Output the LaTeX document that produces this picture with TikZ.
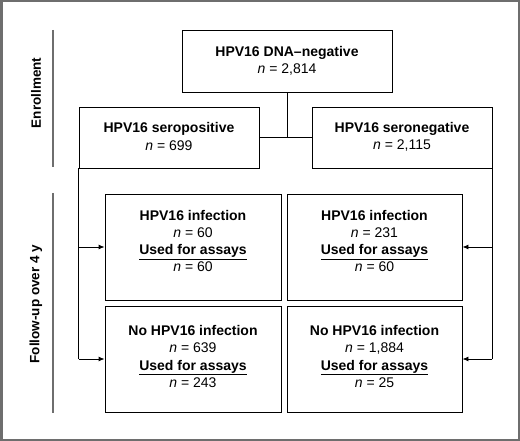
\documentclass[tikz,border=0pt]{standalone}
\usepackage{fontspec}
\setmainfont{Liberation Sans}
\usetikzlibrary{arrows.meta}
\definecolor{frame}{HTML}{6E6E6E}
\begin{document}
\begin{tikzpicture}[x=1pt,y=-1pt,
  box/.style={draw=black,line width=0.9pt,fill=white},
  conn/.style={draw=black,line width=0.9pt},
  arr/.style={conn,-{Latex[length=6pt,width=5pt]}},
  sep/.style={draw=frame,line width=1.4pt},
  lbl/.style={align=center,font=\fontsize{14}{17.2}\selectfont,inner sep=0pt},
  side/.style={rotate=90,font=\fontsize{13.5}{16}\selectfont\bfseries,inner sep=0pt}]
\useasboundingbox (0,0) rectangle (520,441);
\draw[draw=frame,line width=2.5pt] (1.25,1.25) rectangle (518.75,439.75);
% separators
\draw[sep] (53,30) -- (53,167);
\draw[sep] (53,193) -- (53,413);
\node[side] (enr) at (36,93) {Enrollment};
\node[side] (fol) at (36,304) {Follow-up over 4 y};
% boxes
\node[box,minimum width=210pt,minimum height=62pt,inner sep=0pt] (top) at (287,61) {};
\node[lbl] at (top.center) {\textbf{HPV16 DNA–negative}\\\textit{n} = 2,814};
\node[box,minimum width=180pt,minimum height=61pt,inner sep=0pt] (pos) at (169,137.5) {};
\node[lbl] at ([yshift=1pt]pos.center) {\textbf{HPV16 seropositive}\\\textit{n} = 699};
\node[box,minimum width=180pt,minimum height=61pt,inner sep=0pt] (neg) at (402,137.5) {};
\node[lbl] at ([yshift=1pt]neg.center) {\textbf{HPV16 seronegative}\\\textit{n} = 2,115};
\node[box,minimum width=176pt,minimum height=106pt,inner sep=0pt] (pi) at (193,247) {};
\node[lbl] at ([yshift=6pt]pi.center) {\textbf{HPV16 infection}\\\textit{n} = 60\\\textbf{\underline{Used for assays}}\\\textit{n} = 60};
\node[box,minimum width=175pt,minimum height=106pt,inner sep=0pt] (ni) at (374.5,247) {};
\node[lbl] at ([yshift=6pt]ni.center) {\textbf{HPV16 infection}\\\textit{n} = 231\\\textbf{\underline{Used for assays}}\\\textit{n} = 60};
\node[box,minimum width=176pt,minimum height=106pt,inner sep=0pt] (pn) at (193,359) {};
\node[lbl] at ([yshift=2.5pt]pn.center) {\textbf{No HPV16 infection}\\\textit{n} = 639\\\textbf{\underline{Used for assays}}\\\textit{n} = 243};
\node[box,minimum width=175pt,minimum height=106pt,inner sep=0pt] (nn) at (374.5,359) {};
\node[lbl] at ([yshift=2.5pt]nn.center) {\textbf{No HPV16 infection}\\\textit{n} = 1,884\\\textbf{\underline{Used for assays}}\\\textit{n} = 25};
% connectors
\coordinate (j) at (top.south |- pos.east);
\draw[conn] (top.south) -- (j);
\draw[conn] (pos.east) -- (neg.west);
\coordinate (pl) at (pos.south west |- pn.west);
\draw[conn] (pos.south west) -- (pl);
\draw[arr] (pos.south west |- pi.west) -- (pi.west);
\draw[arr] (pl) -- (pn.west);
\coordinate (nr) at (neg.south east |- nn.east);
\draw[conn] (neg.south east) -- (nr);
\draw[arr] (neg.south east |- ni.east) -- (ni.east);
\draw[arr] (nr) -- (nn.east);
\end{tikzpicture}
\end{document}
